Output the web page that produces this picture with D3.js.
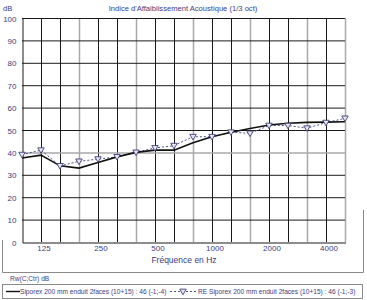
<!DOCTYPE html>
<html>
<head>
<meta charset="utf-8">
<script src="https://cdn.jsdelivr.net/npm/d3@7"></script>
<style>
  body { margin: 0; background: white; }
  svg { display: block; font-family: 'Liberation Sans', Arial, sans-serif; }
</style>
</head>
<body>
<div class="display"></div>
<script>
// third-octave bands, 100 Hz .. 5000 Hz
const bands = [100, 125, 160, 200, 250, 315, 400, 500, 630, 800, 1000, 1250, 1600, 2000, 2500, 3150, 4000, 5000];
const tickBands = [125, 250, 500, 1000, 2000, 4000];
const yTicks = [0, 10, 20, 30, 40, 50, 60, 70, 80, 90, 100];

const siporex = [37.5, 38.8, 34, 33, 35.5, 38, 40, 41, 41, 44.3, 47, 49, 50.7, 52.2, 53, 53.4, 53.5, 53.7];
const reSiporex = [39, 41, 34, 36, 37, 38, 40, 42, 43, 47, 47, 49, 48.5, 52, 52, 50.8, 53.3, 55.2];

const labelSiporex = 'Siporex 200 mm enduit 2faces (10+15) : 46 (-1;-4)';
const labelRe = 'RE Siporex 200 mm enduit 2faces (10+15) : 46 (-1;-3)';

const width = 367;
const height = 300;
const plotLeft = 22, plotRight = 345, plotTop = 18, plotBottom = 242;
const navy = '#3d3d7d';

const svg = d3.select('.display')
  .append('svg')
  .attr('width', width)
  .attr('height', height);

const xScale = d3.scaleLinear()
  .domain([0, bands.length - 1])
  .range([plotLeft, plotRight]);

const yScale = d3.scaleLinear()
  .domain([0, 100])
  .range([plotBottom, plotTop]);

// frame pieces around the chart and legend
svg.append('path')
  .attr('d', `M2.5,240V272.5H363.5V210`)
  .attr('fill', 'none')
  .attr('stroke', '#8a8a8a');

svg.append('rect')
  .attr('x', 2.5).attr('y', 284.5)
  .attr('width', 360).attr('height', 14)
  .attr('fill', 'none')
  .attr('stroke', '#8a8a8a');

// grid
const grayIdx = [3, 6, 9, 12, 15, 17];
svg.append('g')
  .selectAll('line')
  .data(bands.map((_, i) => i).filter(i => i > 0))
  .join('line')
  .attr('x1', i => xScale(i) + 0.5)
  .attr('x2', i => xScale(i) + 0.5)
  .attr('y1', yScale(100))
  .attr('y2', yScale(0))
  .attr('stroke', i => grayIdx.includes(i) ? '#a8a8a8' : '#1a1a1a')
  .attr('stroke-width', i => grayIdx.includes(i) ? 1.5 : 1);

svg.append('g')
  .selectAll('line')
  .data(yTicks.filter(v => v > 0))
  .join('line')
  .attr('x1', xScale(0))
  .attr('x2', xScale(bands.length - 1))
  .attr('y1', d => yScale(d) + 0.5)
  .attr('y2', d => yScale(d) + 0.5)
  .attr('stroke', d => d === 40 ? '#a8a8a8' : '#1a1a1a')
  .attr('stroke-width', d => d === 40 ? 1.5 : 1);

// axes
const yAxis = d3.axisLeft(yScale).tickValues(yTicks).tickSize(0).tickPadding(6);
const gy = svg.append('g')
  .attr('transform', `translate(${plotLeft + 0.5}, 0.5)`)
  .call(yAxis);
gy.select('.domain').attr('stroke', '#1a1a1a');
gy.selectAll('text').attr('fill', navy).style('font-size', '8px');

const xAxis = d3.axisBottom(xScale)
  .tickValues(tickBands.map(b => bands.indexOf(b)))
  .tickFormat(i => bands[i])
  .tickSize(0).tickPadding(3);
const gx = svg.append('g')
  .attr('transform', `translate(0.5, ${plotBottom + 0.5})`)
  .call(xAxis);
gx.select('.domain').attr('stroke', '#1a1a1a');
gx.selectAll('text').attr('fill', navy).attr('dx', 2).style('font-size', '8px');

// titles
svg.append('text')
  .attr('x', 183).attr('y', 11)
  .attr('text-anchor', 'middle')
  .attr('fill', navy)
  .style('font-size', '7.6px')
  .text("Indice d'Affaiblissement Acoustique (1/3 oct)");

svg.append('text')
  .attr('x', 3).attr('y', 11)
  .attr('fill', navy)
  .style('font-size', '7.6px')
  .text('dB');

svg.append('text')
  .attr('x', 184).attr('y', 263)
  .attr('text-anchor', 'middle')
  .attr('fill', navy)
  .style('font-size', '8.5px')
  .text('Fréquence en Hz');

svg.append('text')
  .attr('x', 10).attr('y', 281)
  .attr('fill', navy)
  .style('font-size', '6.6px')
  .text('Rw(C;Ctr)   dB');

// series
const line = d3.line()
  .x((_, i) => xScale(i))
  .y(d => yScale(d));

svg.append('path')
  .datum(reSiporex)
  .attr('d', line)
  .attr('fill', 'none')
  .attr('stroke', '#50508a')
  .attr('stroke-width', 1)
  .attr('stroke-dasharray', '2,2');

svg.append('path')
  .datum(siporex)
  .attr('d', line)
  .attr('fill', 'none')
  .attr('stroke', '#111')
  .attr('stroke-width', 1.6);

const tri = d3.symbol().type(d3.symbolTriangle).size(18);
svg.append('g')
  .selectAll('path')
  .data(reSiporex)
  .join('path')
  .attr('d', tri)
  .attr('transform', (d, i) => `translate(${xScale(i)}, ${yScale(d) - 0.5}) rotate(180)`)
  .attr('fill', '#e6e6f2')
  .attr('stroke', '#40407a')
  .attr('stroke-width', 0.9);

// legend
const ly = 291.5;
svg.append('line')
  .attr('x1', 6).attr('x2', 20)
  .attr('y1', ly).attr('y2', ly)
  .attr('stroke', '#111').attr('stroke-width', 1.4);
svg.append('text')
  .attr('x', 20).attr('y', ly + 2.5)
  .attr('fill', navy)
  .style('font-size', '6.6px')
  .text(labelSiporex);

svg.append('line')
  .attr('x1', 170).attr('x2', 196)
  .attr('y1', ly).attr('y2', ly)
  .attr('stroke', '#50508a')
  .attr('stroke-dasharray', '2,2');
svg.append('path')
  .attr('d', tri)
  .attr('transform', `translate(183, ${ly - 0.5}) rotate(180)`)
  .attr('fill', '#e6e6f2')
  .attr('stroke', '#40407a')
  .attr('stroke-width', 0.9);
svg.append('text')
  .attr('x', 198).attr('y', ly + 2.5)
  .attr('fill', navy)
  .style('font-size', '6.6px')
  .text(labelRe);
</script>
</body>
</html>
